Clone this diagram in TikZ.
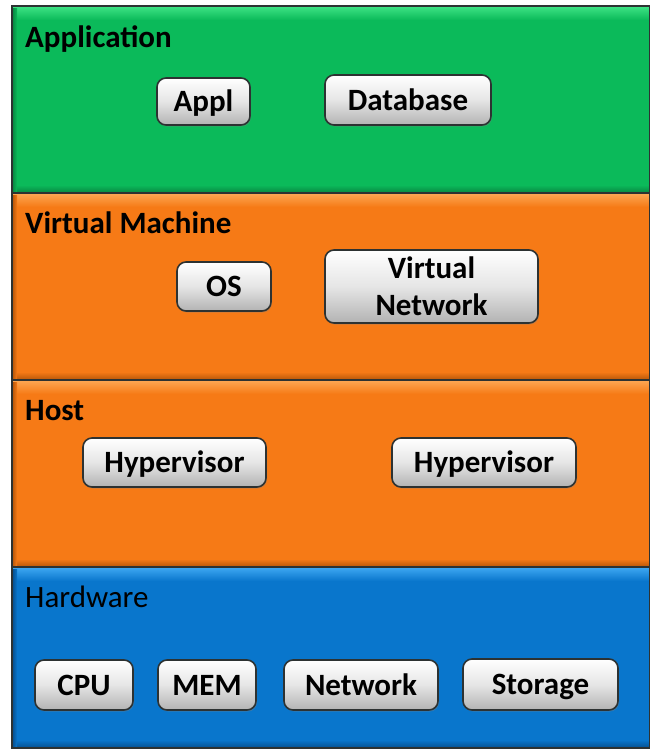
\documentclass[tikz,border=0pt]{standalone}
\usepackage{fontspec}
\setmainfont{Carlito}
\usetikzlibrary{shadows}
\definecolor{appgreen}{RGB}{11,186,90}
\definecolor{apphi}{RGB}{60,225,130}
\definecolor{applo}{RGB}{8,140,68}
\definecolor{vmorange}{RGB}{246,122,22}
\definecolor{vmhi}{RGB}{252,165,80}
\definecolor{vmlo}{RGB}{190,90,10}
\definecolor{hwblue}{RGB}{9,118,204}
\definecolor{hwhi}{RGB}{60,165,240}
\definecolor{hwlo}{RGB}{6,84,150}
\definecolor{edge}{RGB}{45,50,50}
\tikzset{
  btn/.style={draw=edge, line width=1.6pt, rounded corners=9pt,
    top color=white, bottom color=black!30, middle color=black!10,
    font=\bfseries\fontsize{31}{37}\selectfont, inner sep=0pt, align=center,
    drop shadow={opacity=0.35, shadow xshift=1pt, shadow yshift=-1.5pt}},
  onebtn/.style={btn, text height=20pt, text depth=0pt},
  layerlbl/.style={anchor=base west, inner sep=0pt, font=\bfseries\fontsize{31}{36}\selectfont},
  layeredge/.style={draw=edge, line width=1.6pt}
}
\newcommand\mklayer[5]{%
  \fill[#3] (12,#1) rectangle (650,#2);
  \shade[top color=#4, bottom color=#3] (13,#1+1) rectangle (650,#1+14);
  \shade[top color=#3, bottom color=#5] (13,#2-8) rectangle (650,#2-1);
  \shade[left color=#5, right color=#3] (13,#1+2) rectangle (17,#2-2);
  \draw[layeredge] (12,#1) rectangle (650,#2);
}
\begin{document}
\begin{tikzpicture}[x=1pt,y=-1pt]
\useasboundingbox[fill=white] (0,0) rectangle (650,750);
\mklayer{6}{193}{appgreen}{apphi}{applo}
\mklayer{193}{380}{vmorange}{vmhi}{vmlo}
\mklayer{380}{567}{vmorange}{vmhi}{vmlo}
\mklayer{567}{748}{hwblue}{hwhi}{hwlo}

\node[layerlbl] (lapp) at (25,47) {Application};
\node[layerlbl] (lvm) at (25,233) {Virtual Machine};
\node[layerlbl] (lhost) at (25,420) {Host};
\node[layerlbl, font=\fontsize{31}{36}\selectfont] (lhw) at (25,607) {Hardware};

\node[onebtn, minimum width=93pt, minimum height=47pt] (appl) at (203.5,101.5) {Appl};
\node[onebtn, minimum width=166pt, minimum height=50pt] (db) at (408,100) {Database};
\node[onebtn, minimum width=94pt, minimum height=49pt] (os) at (224,286.5) {OS};
\node[btn, minimum width=213pt, minimum height=73pt] (vnet) at (431.5,286.5) {Virtual\\Network};
\node[onebtn, minimum width=183pt, minimum height=49pt] (hyp1) at (174.5,462.5) {Hypervisor};
\node[onebtn, minimum width=184pt, minimum height=49pt] (hyp2) at (484,462.5) {Hypervisor};
\node[onebtn, minimum width=98pt, minimum height=50pt] (cpu) at (84,685) {CPU};
\node[onebtn, minimum width=98pt, minimum height=50pt] (mem) at (207,685) {MEM};
\node[onebtn, minimum width=154pt, minimum height=50pt] (net) at (361,685) {Network};
\node[onebtn, minimum width=155pt, minimum height=51pt] (stor) at (540.5,684.5) {Storage};
\end{tikzpicture}
\end{document}
